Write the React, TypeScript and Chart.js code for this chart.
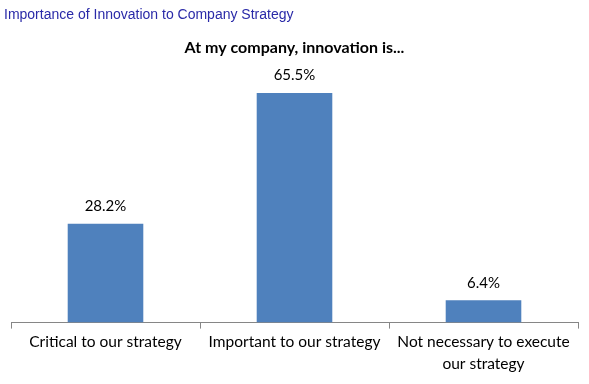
import React, { useEffect, useRef } from "react";
import { Chart, registerables } from "chart.js";

Chart.register(...registerables);

const heading = "Importance of Innovation to Company Strategy";
const chartTitle = "At my company, innovation is...";
const categories: (string | string[])[] = [
  "Critical to our strategy",
  "Important to our strategy",
  ["Not necessary to execute", "our strategy"],
];
const values = [28.2, 65.5, 6.4];
const valueLabels = ["28.2%", "65.5%", "6.4%"];

const FONT = "Lato, 'Open Sans', sans-serif";

const labelPlugin = {
  id: "valueLabels",
  afterDatasetsDraw(chart: any) {
    const ctx = chart.ctx;
    const meta = chart.getDatasetMeta(0);
    ctx.save();
    ctx.font = `15px ${FONT}`;
    ctx.fillStyle = "#000";
    ctx.textAlign = "center";
    ctx.textBaseline = "bottom";
    meta.data.forEach((bar: any, i: number) => {
      ctx.fillText(valueLabels[i], bar.x, bar.y - 10);
    });
    ctx.restore();
  },
};

export default function App() {
  const ref = useRef<HTMLCanvasElement>(null);
  useEffect(() => {
    document.body.style.margin = "0";
    const chart = new Chart(ref.current!, {
      type: "bar",
      data: {
        labels: categories,
        datasets: [
          {
            data: values,
            backgroundColor: "#4f81bd",
            barPercentage: 0.8,
            categoryPercentage: 0.5,
          },
        ],
      },
      options: {
        animation: false,
        responsive: false,
        layout: { padding: { left: 11, right: 11, top: 8, bottom: 6 } },
        plugins: {
          legend: { display: false },
          tooltip: { enabled: false },
          title: {
            display: true,
            text: chartTitle,
            color: "#000",
            font: { family: FONT, size: 16, weight: "bold" },
            padding: { top: 30, bottom: 20 },
          },
        },
        scales: {
          x: {
            grid: {
              offset: true,
              drawOnChartArea: false,
              drawTicks: true,
              tickLength: 6,
              color: "#868686",
            },
            border: { color: "#868686" },
            ticks: {
              color: "#000",
              font: { family: FONT, size: 15.5, lineHeight: 1.4 },
              padding: 3,
              maxRotation: 0,
              autoSkip: false,
            },
          },
          y: {
            display: false,
            min: 0,
            max: 70,
          },
        },
      },
      plugins: [labelPlugin],
    });
    return () => chart.destroy();
  }, []);
  return (
    <div style={{ position: "relative", width: 589, height: 384, background: "#fff" }}>
      <div
        style={{
          position: "absolute",
          left: 4,
          top: 6,
          fontFamily: "'Liberation Sans', Arial, sans-serif",
          fontSize: 14,
          color: "#2a2aa8",
        }}
      >
        {heading}
      </div>
      <canvas ref={ref} width={589} height={384} style={{ display: "block" }} />
    </div>
  );
}
